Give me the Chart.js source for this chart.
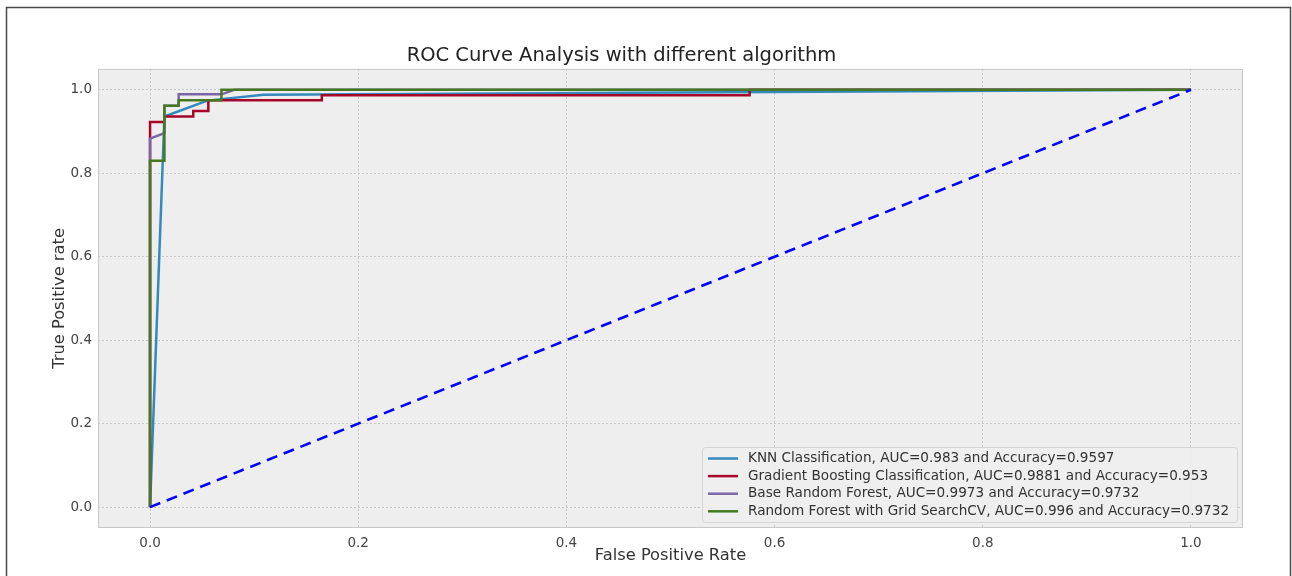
<!DOCTYPE html>
<html><head><meta charset="utf-8">
<script src="https://cdn.jsdelivr.net/npm/chart.js@4.4.1/dist/chart.umd.min.js"></script>
<style>html,body{margin:0;padding:0;background:#fff;} #wrap{width:1292px;height:576px;position:relative;}</style>
</head><body><div id="wrap"><canvas id="c" width="1292" height="576"></canvas></div>
<script>
const titleText = "ROC Curve Analysis with different algorithm";
const xTitle = "False Positive Rate";
const yTitle = "True Positive rate";
const tickValues = [0, 0.2, 0.4, 0.6, 0.8, 1.0];
const tickLabels = ["0.0", "0.2", "0.4", "0.6", "0.8", "1.0"];
const seriesLabels = [
  "KNN Classification, AUC=0.983 and Accuracy=0.9597",
  "Gradient Boosting Classification, AUC=0.9881 and Accuracy=0.953",
  "Base Random Forest, AUC=0.9973 and Accuracy=0.9732",
  "Random Forest with Grid SearchCV, AUC=0.996 and Accuracy=0.9732"
];
const seriesColors = ["#348ABD", "#A60628", "#7A68A6", "#467821"];
const knnFpr = [0, 0.0138, 0.055, 0.109, 1.0];
const knnTpr = [0, 0.936, 0.974, 0.988, 1.0];
const gbFpr = [0, 0, 0.0138, 0.0138, 0.0415, 0.0415, 0.056, 0.056, 0.165, 0.165, 0.576, 0.576, 1.0];
const gbTpr = [0, 0.923, 0.923, 0.936, 0.936, 0.949, 0.949, 0.975, 0.975, 0.987, 0.987, 1.0, 1.0];
const rfFpr = [0, 0, 0.0138, 0.0138, 0.0275, 0.0275, 0.0686, 0.081, 1.0];
const rfTpr = [0, 0.883, 0.896, 0.962, 0.962, 0.989, 0.989, 1.0, 1.0];
const rfcvFpr = [0, 0, 0.0138, 0.0138, 0.0275, 0.0275, 0.0686, 0.0686, 1.0];
const rfcvTpr = [0, 0.830, 0.830, 0.962, 0.962, 0.975, 0.975, 1.0, 1.0];
const diagFpr = [0, 1];
const diagTpr = [0, 1];

const pts = (xs, ys) => xs.map((x, i) => ({x: x, y: ys[i]}));

const areaBg = {
  id: 'areaBg',
  beforeDraw(chart) {
    const {ctx, chartArea: a} = chart;
    ctx.save();
    ctx.fillStyle = '#ffffff';
    ctx.fillRect(0, 0, chart.width, chart.height);
    ctx.fillStyle = '#eeeeee';
    ctx.fillRect(a.left, a.top, a.right - a.left, a.bottom - a.top);
    ctx.restore();
  },
  beforeDatasetsDraw(chart) {
    const {ctx, chartArea: a} = chart;
    ctx.save();
    ctx.strokeStyle = '#c8c8c8';
    ctx.lineWidth = 1;
    ctx.strokeRect(a.left + 0.5, a.top + 0.5, a.right - a.left - 1, a.bottom - a.top - 1);
    ctx.restore();
  },
  afterDraw(chart) {
    const {ctx} = chart;
    ctx.save();
    // legend
    ctx.font = '13.6px "DejaVu Sans"';
    let maxW = 0;
    seriesLabels.forEach(l => { maxW = Math.max(maxW, ctx.measureText(l).width); });
    const bx = 702, by = 447, rowH = 17.6;
    const bw = 46 + maxW + 8, bh = 75;
    ctx.fillStyle = 'rgba(238,238,238,0.85)';
    ctx.strokeStyle = '#d4d4d4';
    ctx.lineWidth = 1;
    ctx.beginPath();
    ctx.roundRect(bx + 0.5, by + 0.5, bw, bh, 3);
    ctx.fill(); ctx.stroke();
    ctx.textBaseline = 'middle';
    seriesLabels.forEach((l, i) => {
      const y = by + 11.5 + i * rowH;
      ctx.strokeStyle = seriesColors[i];
      ctx.lineWidth = 2.5;
      ctx.beginPath(); ctx.moveTo(708, y); ctx.lineTo(738, y); ctx.stroke();
      ctx.fillStyle = '#333333';
      ctx.fillText(l, 748, y);
    });
    // figure frame
    ctx.strokeStyle = '#4a4a4a';
    ctx.lineWidth = 1.5;
    ctx.strokeRect(6.5, 7.5, 1284, 620);
    ctx.restore();
  }
};

const mk = (label, xs, ys, color, order) => ({
  label: label, data: pts(xs, ys), borderColor: color, backgroundColor: color,
  borderWidth: 2.5, pointRadius: 0, tension: 0, fill: false, order: order
});

const datasets = [
  mk(seriesLabels[0], knnFpr, knnTpr, seriesColors[0], 5),
  mk(seriesLabels[1], gbFpr, gbTpr, seriesColors[1], 4),
  mk(seriesLabels[2], rfFpr, rfTpr, seriesColors[2], 3),
  mk(seriesLabels[3], rfcvFpr, rfcvTpr, seriesColors[3], 2),
  Object.assign(mk('diagonal', diagFpr, diagTpr, '#0000ff', 1), {borderDash: [11, 7], borderWidth: 2.6})
];

const fixTicks = (scale) => { scale.ticks = tickValues.map(v => ({value: v})); };
const gridOpts = {color: '#c8c8c8', lineWidth: 1, drawTicks: false};

new Chart(document.getElementById('c'), {
  type: 'line',
  data: {datasets: datasets},
  plugins: [areaBg],
  options: {
    responsive: false,
    animation: false,
    devicePixelRatio: 1,
    layout: {padding: {left: 0, right: 49, top: 0, bottom: 0}},
    plugins: {
      legend: {display: false},
      tooltip: {enabled: false},
      title: {
        display: true, text: titleText, color: '#222222',
        font: {family: 'DejaVu Sans', size: 19.5, weight: 'normal'},
        padding: {top: 44.5, bottom: 1}
      }
    },
    scales: {
      x: {
        type: 'linear', min: -0.05, max: 1.05,
        afterBuildTicks: fixTicks,
        afterFit: (s) => { s.height = 48; },
        grid: Object.assign({}, gridOpts),
        border: {display: false, dash: [2, 2]},
        ticks: {color: '#444444', padding: 7, font: {family: 'DejaVu Sans', size: 13.5},
          callback: (v) => tickLabels[tickValues.indexOf(Math.round(v * 10) / 10)] ?? ''},
        title: {display: true, text: xTitle, color: '#333333',
          font: {family: 'DejaVu Sans', size: 16.3}, padding: {top: 0, bottom: 10}}
      },
      y: {
        type: 'linear', min: -0.05, max: 1.05,
        afterBuildTicks: fixTicks,
        afterFit: (s) => { s.width = 98; },
        grid: Object.assign({}, gridOpts),
        border: {display: false, dash: [2, 2]},
        ticks: {color: '#444444', padding: 6, font: {family: 'DejaVu Sans', size: 13.5},
          callback: (v) => tickLabels[tickValues.indexOf(Math.round(v * 10) / 10)] ?? ''},
        title: {display: true, text: yTitle, color: '#333333',
          font: {family: 'DejaVu Sans', size: 16.3}, padding: {top: 50, bottom: 50}}
      }
    }
  }
});
</script>
</body></html>
